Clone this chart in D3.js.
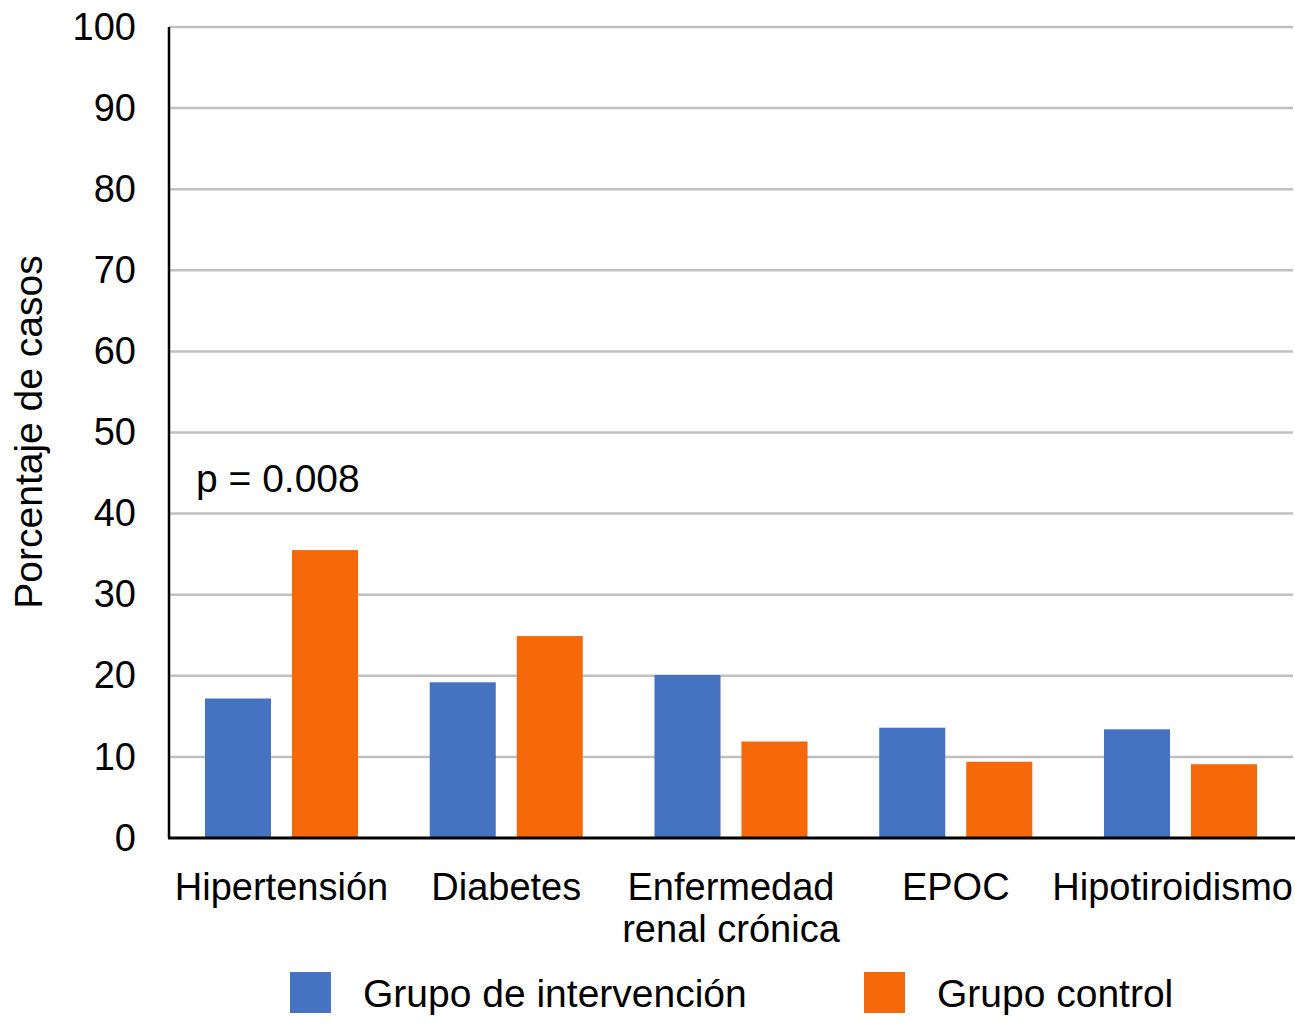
<!DOCTYPE html>
<html>
<head>
<meta charset="utf-8">
<script src="https://cdn.jsdelivr.net/npm/d3@7"></script>
<style>
  body { margin: 0; background: #fff; }
  text { font-family: "Liberation Sans", Arial, Helvetica, sans-serif; fill: #000; }
</style>
</head>
<body>
<div id="vis"></div>
<script>
// data
const categories = [["Hipertensión"], ["Diabetes"], ["Enfermedad", "renal crónica"], ["EPOC"], ["Hipotiroidismo"]];
const series = ["Grupo de intervención", "Grupo control"];
const intervencion = [17.2, 19.2, 20.1, 13.6, 13.4];
const control = [35.5, 24.9, 11.9, 9.4, 9.1];
const yTicks = [0, 10, 20, 30, 40, 50, 60, 70, 80, 90, 100];
const colors = ["#4573c2", "#f5690b"];

// set constants
const FRAME_WIDTH = 1295;
const FRAME_HEIGHT = 1024;
const MARGINS = {left: 169, right: 2, top: 27, bottom: 186};
const VIS_WIDTH = FRAME_WIDTH - MARGINS.left - MARGINS.right;
const VIS_HEIGHT = FRAME_HEIGHT - MARGINS.top - MARGINS.bottom;

const FRAME = d3.select("#vis")
  .append("svg")
    .attr("width", FRAME_WIDTH)
    .attr("height", FRAME_HEIGHT);

const names = categories.map(d => d.join(" "));

const X0 = d3.scaleBand()
  .domain(names)
  .range([MARGINS.left, MARGINS.left + VIS_WIDTH])
  .paddingInner(0.319)
  .paddingOuter(0.16);

const X1 = d3.scaleBand()
  .domain(series)
  .range([0, X0.bandwidth()])
  .paddingInner(0.241);

const Y = d3.scaleLinear()
  .domain([0, 100])
  .range([MARGINS.top + VIS_HEIGHT, MARGINS.top]);

// gridlines
FRAME.append("g")
  .selectAll("line")
  .data(yTicks.slice(1))
  .enter()
  .append("line")
    .attr("x1", MARGINS.left)
    .attr("x2", MARGINS.left + VIS_WIDTH)
    .attr("y1", d => Y(d))
    .attr("y2", d => Y(d))
    .attr("stroke", "#c0c0c0")
    .attr("stroke-width", 2.5);

// y tick labels
const yAxis = FRAME.append("g")
  .attr("transform", "translate(" + MARGINS.left + ",0)")
  .call(d3.axisLeft(Y).tickValues(yTicks).tickSize(0).tickPadding(33));
yAxis.select(".domain").remove();
yAxis.selectAll("text")
  .style("font-size", "38px")
  .attr("font-family", null);

// bars
const rows = names.map((n, i) => ({name: n, values: [intervencion[i], control[i]]}));
FRAME.append("g")
  .selectAll("g")
  .data(rows)
  .enter()
  .append("g")
    .attr("transform", d => "translate(" + X0(d.name) + ",0)")
  .selectAll("rect")
  .data(d => d.values.map((v, j) => ({s: series[j], v: v, j: j})))
  .enter()
  .append("rect")
    .attr("x", d => X1(d.s))
    .attr("y", d => Y(d.v))
    .attr("width", X1.bandwidth())
    .attr("height", d => Y(0) - Y(d.v))
    .attr("fill", d => colors[d.j]);

// axis lines
FRAME.append("line")
  .attr("x1", MARGINS.left).attr("x2", MARGINS.left)
  .attr("y1", MARGINS.top).attr("y2", Y(0))
  .attr("stroke", "#000").attr("stroke-width", 2.5);
FRAME.append("line")
  .attr("x1", MARGINS.left - 1).attr("x2", FRAME_WIDTH)
  .attr("y1", Y(0)).attr("y2", Y(0))
  .attr("stroke", "#000").attr("stroke-width", 3);

// category labels
const catLabels = FRAME.append("g")
  .selectAll("text")
  .data(categories)
  .enter()
  .append("text")
    .attr("x", (d, i) => X0(names[i]) + X0.bandwidth() / 2)
    .attr("y", 900)
    .attr("text-anchor", "middle")
    .style("font-size", "38px");
catLabels.selectAll("tspan")
  .data(d => d)
  .enter()
  .append("tspan")
    .attr("x", function() { return d3.select(this.parentNode).attr("x"); })
    .attr("dy", (d, i) => i === 0 ? 0 : 42)
    .text(d => d);
// keep the last label inside the frame
catLabels.each(function() {
  const box = this.getBBox();
  const over = box.x + box.width - (FRAME_WIDTH - 2);
  if (over > 0) {
    const nx = +d3.select(this).attr("x") - over;
    d3.select(this).attr("x", nx).selectAll("tspan").attr("x", nx);
  }
});

// p value annotation
FRAME.append("text")
  .attr("x", 196)
  .attr("y", 492)
  .style("font-size", "39px")
  .text("p = 0.008");

// Y label
FRAME.append("text")
  .attr("transform", "translate(42," + 432 + ") rotate(-90)")
  .attr("text-anchor", "middle")
  .style("font-size", "39px")
  .text("Porcentaje de casos");

// legend
const legendX = [290, 864];
const legend = FRAME.append("g")
  .selectAll("g")
  .data(series)
  .enter()
  .append("g")
    .attr("transform", (d, i) => "translate(" + legendX[i] + ",972)");
legend.append("rect")
  .attr("width", 41)
  .attr("height", 41)
  .attr("fill", (d, i) => colors[i]);
legend.append("text")
  .attr("x", 73)
  .attr("y", 35)
  .style("font-size", "39px")
  .text(d => d);
</script>
</body>
</html>
